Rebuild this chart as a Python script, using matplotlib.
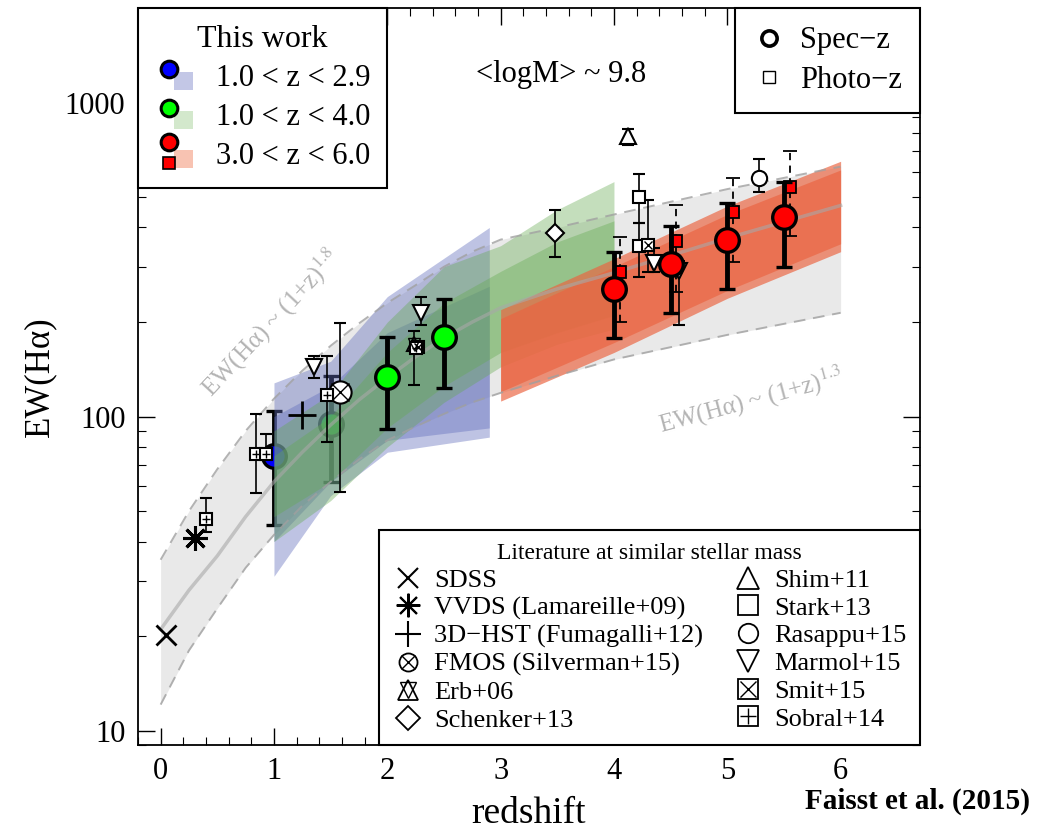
import numpy as np
import matplotlib.pyplot as plt
from matplotlib.lines import Line2D
from matplotlib.patches import Rectangle
from matplotlib.legend_handler import HandlerBase
from matplotlib.ticker import MultipleLocator, LogLocator, NullFormatter

plt.rcParams['font.family'] = ['Liberation Serif', 'DejaVu Serif']
plt.rcParams['mathtext.fontset'] = 'stix'

# --- grey model band ---
grey_z = [0.0, 0.25, 0.5, 0.75, 1.0, 1.25, 1.5, 1.75, 2.0, 2.25, 2.5, 2.75, 3.0,
          3.5, 4.0, 5.0, 6.0]
grey_hi = [35, 50, 68, 90, 114, 140, 168, 198, 230, 262, 300, 335, 366,
           400, 440, 530, 625]
grey_lo = [12.1, 18, 24.5, 33, 42, 52, 62, 73, 84, 93, 102, 111, 119,
           135, 152, 182, 214]
grey_mid = [21, 28, 36, 48, 62, 77, 94, 113, 133, 155, 178, 200, 222,
            255, 287, 370, 470]

# --- fitted bands of this work (outer / inner envelopes) ---
blue_bz = [1.0, 1.5, 2.0, 2.9]
blue_out_lo = [31, 56, 77, 86]
blue_out_hi = [128, 150, 241, 400]
blue_in_lo = [40, 62, 84, 92]
blue_in_hi = [100, 125, 185, 260]

green_bz = [1.0, 1.5, 2.0, 2.5, 3.0, 3.5, 4.0]
green_out_lo = [40, 54, 80, 111, 144, 170, 190]
green_out_hi = [90, 118, 200, 300, 350, 456, 560]
green_in_lo = [48, 62, 92, 125, 160, 185, 210]
green_in_hi = [75, 100, 160, 230, 290, 360, 420]

orange_bz = [3.0, 4.0, 5.0, 6.0]
orange_out_lo = [112, 160, 238, 335]
orange_out_hi = [219, 318, 468, 650]
orange_in_lo = [120, 172, 252, 355]
orange_in_hi = [205, 300, 440, 610]

# --- this work: measurements ---
blue_z, blue_ew, blue_lo, blue_hi = [1.0], [74.7], [45], [104]
green_z = [1.5, 2.0, 2.5]
green_ew = [95, 134, 179]
green_lo = [61.7, 91.6, 123]
green_hi = [135, 179, 236]
red_z = [4.0, 4.5, 5.0, 5.5]
red_ew = [254, 307, 366, 431]
red_lo = [178, 214, 254, 300]
red_hi = [333, 403, 477, 560]
redsq_z = [4.05, 4.55, 5.05, 5.55]
redsq_ew = [288, 361, 447, 540]
redsq_lo = [200, 250, 310, 377]
redsq_hi = [374, 470, 577, 703]

# --- literature ---
sdss_z, sdss_ew = [0.05], [20.2]
vvds_z, vvds_ew = [0.30], [41.2]
hst_z, hst_ew = [1.25], [101]
fmos_z, fmos_ew, fmos_lo, fmos_hi = [1.58], [120], [57.7], [199]
erb_z, erb_ew, erb_lo, erb_hi = [2.24], [170], [126], [187]
schenker_z, schenker_ew, schenker_lo, schenker_hi = [3.48], [385], [323], [456]
shim_z, shim_ew, shim_lo, shim_hi = [4.12], [780], [730], [826]
stark_z = [4.22, 4.22]
stark_ew = [502, 348]
stark_lo = [412, 279]
stark_hi = [590, 412]
rasappu_z, rasappu_ew, rasappu_lo, rasappu_hi = [5.28], [577], [517], [663]
marmol_z = [1.35, 2.30, 4.35, 4.57]
marmol_ew = [144, 214, 309, 290]
marmol_lo = [133, 196, 288, 196]
marmol_hi = [156, 241, 345, 312]
smit_z = [2.27, 4.30]
smit_ew = [166, 353]
smit_lo = [166, 288]
smit_hi = [166, 491]
sobral_z = [0.40, 0.84, 0.93, 1.47, 2.25]
sobral_ew = [47.3, 76, 76, 117, 165]
sobral_lo = [43, 57, 76, 83, 165]
sobral_hi = [55, 102, 88, 156, 165]


class WorkKey:
    def __init__(self, face, band, square=False):
        self.face = face
        self.band = band
        self.square = square


class WorkKeyHandler(HandlerBase):
    def create_artists(self, legend, orig_handle, xdescent, ydescent,
                       width, height, fontsize, trans):
        k = orig_handle
        rect = Rectangle((width * 0.42 - xdescent, -ydescent - height * 0.2),
                         width * 0.42, height * 0.85, facecolor=k.band,
                         edgecolor='none', transform=trans)
        cy = height * (1.05 if k.square else 0.8) - ydescent
        circ = Line2D([width * 0.32 - xdescent], [cy],
                      marker='o', ms=12, mfc=k.face, mec='black', mew=2.2,
                      ls='', transform=trans)
        arts = [rect, circ]
        if k.square:
            sq = Line2D([width * 0.32 - xdescent], [height * 0.05 - ydescent],
                        marker='s', ms=9, mfc='red', mec='black', mew=1.2,
                        ls='', transform=trans)
            arts.append(sq)
        return arts


fig = plt.figure(figsize=(10.46, 8.32), dpi=100)
ax = fig.add_axes([0.1319, 0.1046, 0.7476, 0.8858])
ax.set_yscale('log')
ax.set_xlim(-0.2, 6.7)
ax.set_ylim(9, 2000)

# --- model band ---
ax.fill_between(grey_z, grey_lo, grey_hi, color='#e9e9e9', lw=0, zorder=1)
ax.plot(grey_z, grey_hi, color='#a0a0a0', ls=(0, (6, 4)), lw=1.4, alpha=0.8, zorder=5)
ax.plot(grey_z, grey_lo, color='#a0a0a0', ls=(0, (6, 4)), lw=1.4, alpha=0.8, zorder=5)
ax.plot(grey_z, grey_mid, color='#a8a8a8', lw=2.5, alpha=0.6, zorder=5)

thick = dict(ls='', ms=17, mec='black', mew=2.4, ecolor='black',
             elinewidth=3.5, capsize=6, capthick=3.5)

# points that sit under the bands
ax.errorbar(blue_z, blue_ew,
            yerr=[np.subtract(blue_ew, blue_lo), np.subtract(blue_hi, blue_ew)],
            marker='o', mfc='#0000ff', zorder=3, **thick)
ax.errorbar(green_z[:1], green_ew[:1],
            yerr=[np.subtract(green_ew[:1], green_lo[:1]),
                  np.subtract(green_hi[:1], green_ew[:1])],
            marker='o', mfc='#00ff00', zorder=3, **thick)

# --- bands of this work ---
ax.fill_between(blue_bz, blue_out_lo, blue_out_hi, color='#6470be', alpha=0.42, lw=0, zorder=4)
ax.fill_between(blue_bz, blue_in_lo, blue_in_hi, color='#6470be', alpha=0.42, lw=0, zorder=4)
ax.fill_between(green_bz, green_out_lo, green_out_hi, color='#64aa50', alpha=0.38, lw=0, zorder=4)
ax.fill_between(green_bz, green_in_lo, green_in_hi, color='#64aa50', alpha=0.38, lw=0, zorder=4)
ax.fill_between(orange_bz, orange_out_lo, orange_out_hi, color='#eb6441', alpha=0.68, lw=0, zorder=4)
ax.fill_between(orange_bz, orange_in_lo, orange_in_hi, color='#eb6441', alpha=0.68, lw=0, zorder=4)

# --- literature points ---
thin = dict(ls='', mec='black', ecolor='black', elinewidth=1.2, capsize=4,
            capthick=1.2, zorder=6)


def lit(z, ew, lo, hi, marker, ms, mew=1.5, over=None):
    ax.errorbar(z, ew, yerr=[np.subtract(ew, lo), np.subtract(hi, ew)],
                marker=marker, ms=ms, mfc='white', mew=mew, **thin)
    if over:
        ax.plot(z, ew, ls='', marker=over, ms=ms * 0.8, mfc='none',
                mec='black', mew=1.0, zorder=7)


ax.plot(sdss_z, sdss_ew, ls='', marker='x', ms=14, mec='black', mew=2, zorder=6)
ax.plot(vvds_z, vvds_ew, ls='', marker=(8, 2, 0), ms=18, mec='black', mew=2.2, zorder=6)
ax.plot(hst_z, hst_ew, ls='', marker='+', ms=20, mec='black', mew=2, zorder=6)
lit(fmos_z, fmos_ew, fmos_lo, fmos_hi, 'o', 16, over='x')
lit(erb_z, erb_ew, erb_lo, erb_hi, '^', 10, over='v')
lit(schenker_z, schenker_ew, schenker_lo, schenker_hi, 'D', 9)
lit(shim_z, shim_ew, shim_lo, shim_hi, '^', 11)
lit(stark_z, stark_ew, stark_lo, stark_hi, 's', 9)
lit(rasappu_z, rasappu_ew, rasappu_lo, rasappu_hi, 'o', 11)
lit(marmol_z, marmol_ew, marmol_lo, marmol_hi, 'v', 11)
lit(smit_z, smit_ew, smit_lo, smit_hi, 's', 8, over='x')
lit(sobral_z, sobral_ew, sobral_lo, sobral_hi, 's', 8, over='+')

# points on top of the bands
ax.errorbar(green_z[1:], green_ew[1:],
            yerr=[np.subtract(green_ew[1:], green_lo[1:]),
                  np.subtract(green_hi[1:], green_ew[1:])],
            marker='o', mfc='#00ff00', zorder=8, **thick)
sq = ax.errorbar(redsq_z, redsq_ew,
                 yerr=[np.subtract(redsq_ew, redsq_lo), np.subtract(redsq_hi, redsq_ew)],
                 ls='', marker='s', ms=9, mfc='#ff0000', mec='black', mew=1.3,
                 ecolor='black', elinewidth=1.3, capsize=5, capthick=1.3, zorder=8)
sq[2][0].set_linestyle((0, (4, 3)))
ax.errorbar(red_z, red_ew,
            yerr=[np.subtract(red_ew, red_lo), np.subtract(red_hi, red_ew)],
            marker='o', mfc='#ff0000', zorder=9, **thick)

# --- annotations ---
ax.text(3.53, 1228, '<logM> ~ 9.8', fontsize=22, ha='center', va='center')
ax.text(0.97, 199, 'EW(Hα) ~ (1+z)$^{1.8}$', fontsize=18, color='#b4b4b4',
        rotation=47, ha='center', va='center', zorder=3)
ax.text(5.21, 112, 'EW(Hα) ~ (1+z)$^{1.3}$', fontsize=18, color='#b4b4b4',
        rotation=15, ha='center', va='center', zorder=3)

# --- axes formatting ---
ax.set_yticks([10, 100, 1000])
ax.set_yticklabels(['10', '100', '1000'])
ax.yaxis.set_minor_locator(LogLocator(base=10, subs=np.arange(2, 10)))
ax.yaxis.set_minor_formatter(NullFormatter())
ax.xaxis.set_major_locator(MultipleLocator(1))
ax.xaxis.set_minor_locator(MultipleLocator(0.2))
ax.tick_params(which='both', direction='in', top=True, right=True, labelsize=22)
ax.tick_params(which='major', length=12, width=1.0, pad=9)
ax.tick_params(which='minor', length=6, width=0.8)
for s in ax.spines.values():
    s.set_linewidth(1.3)
ax.set_xlabel('redshift', fontsize=27, labelpad=7)
ax.set_ylabel('EW(Hα)', fontsize=25, labelpad=6)

# --- legends ---
work_handles = [WorkKey('#0000ff', '#c3c7e6'), WorkKey('#00ff00', '#d3e8cc'),
                WorkKey('#ff0000', '#f8c3b2', square=True)]
work_labels = ['1.0 < z < 2.9', '1.0 < z < 4.0', '3.0 < z < 6.0']
leg1 = ax.legend(work_handles, work_labels, handler_map={WorkKey: WorkKeyHandler()},
                 loc='upper left', bbox_to_anchor=(0, 1), borderaxespad=0,
                 title='This work', title_fontsize=23, fontsize=22,
                 fancybox=False, edgecolor='black', framealpha=1,
                 handlelength=1.5, handletextpad=0.5, labelspacing=0.33,
                 borderpad=0.55)
leg1.get_frame().set_linewidth(1.5)
leg1.set_zorder(10)
ax.add_artist(leg1)

sp_handles = [Line2D([], [], ls='', marker='o', ms=11, mfc='white', mec='black', mew=2.6),
              Line2D([], [], ls='', marker='s', ms=8, mfc='white', mec='black', mew=1.0)]
leg2 = ax.legend(sp_handles, ['Spec−z', 'Photo−z'], loc='upper right',
                 bbox_to_anchor=(1, 1), borderaxespad=0, fontsize=22,
                 fancybox=False, edgecolor='black', framealpha=1,
                 handlelength=1.0, handletextpad=0.5, labelspacing=0.35,
                 borderpad=0.6)
leg2.get_frame().set_linewidth(1.5)
leg2.set_zorder(10)
ax.add_artist(leg2)


def key(marker, ms, mew=1.3, over=None):
    base = Line2D([], [], ls='', marker=marker, ms=ms, mfc='white', mec='black', mew=mew)
    if over is None:
        return base
    return (base, Line2D([], [], ls='', marker=over, ms=ms * 0.8, mfc='none',
                         mec='black', mew=1.0))


lit_handles = [key('x', 14, 1.5), key((8, 2, 0), 17, 1.5), key('+', 19, 1.5),
               key('o', 13, over='x'), key('^', 15, over='v'), key('D', 12),
               key('^', 16), key('s', 14), key('o', 14),
               key('v', 16), key('s', 14, over='x'), key('s', 14, over='+')]
lit_labels = ['SDSS', 'VVDS (Lamareille+09)', '3D−HST (Fumagalli+12)',
              'FMOS (Silverman+15)', 'Erb+06', 'Schenker+13',
              'Shim+11', 'Stark+13', 'Rasappu+15', 'Marmol+15', 'Smit+15', 'Sobral+14']
leg3 = ax.legend(lit_handles, lit_labels, loc='lower right', bbox_to_anchor=(1, 0),
                 borderaxespad=0, ncol=2, fontsize=19, title='Literature at similar stellar mass',
                 title_fontsize=17, fancybox=False, edgecolor='black', framealpha=1,
                 handlelength=1.2, handletextpad=0.4, labelspacing=0.16,
                 columnspacing=1.1, borderpad=0.5)
leg3.get_frame().set_linewidth(1.5)
leg3.set_zorder(10)

fig.text(0.985, 0.02, 'Faisst et al. (2015)', fontsize=21, fontweight='bold',
         ha='right', va='bottom')

fig.savefig('out.png', dpi=100)
